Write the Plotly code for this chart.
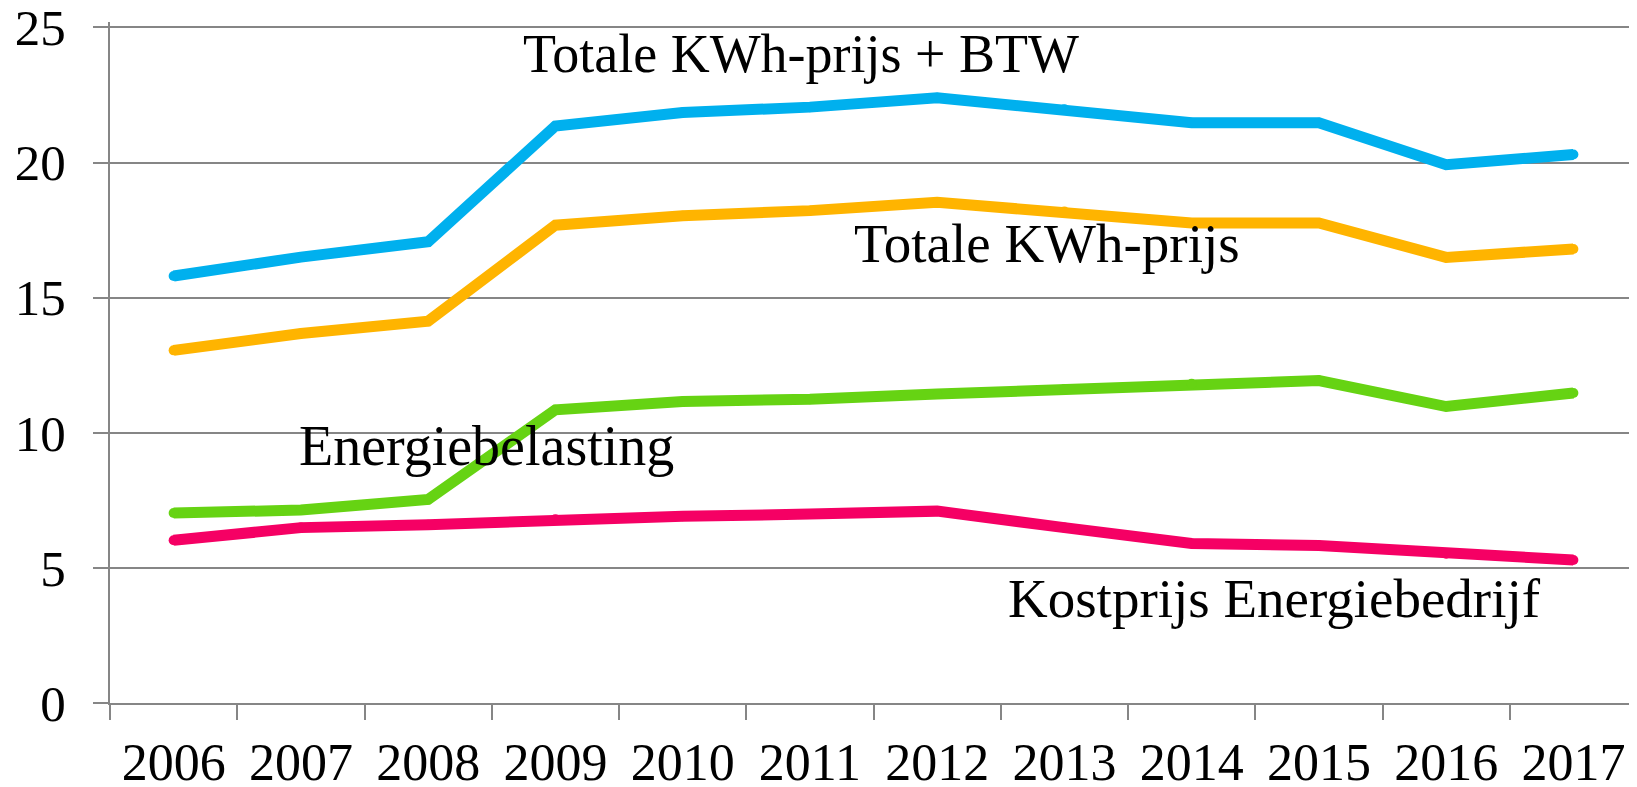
import plotly.graph_objects as go

years = ["2006", "2007", "2008", "2009", "2010", "2011", "2012", "2013", "2014", "2015", "2016", "2017"]
totaal_btw = [15.8, 16.5, 17.07, 21.35, 21.85, 22.05, 22.4, 21.97, 21.47, 21.47, 19.92, 20.3]
totaal = [13.05, 13.67, 14.13, 17.68, 18.03, 18.22, 18.53, 18.19, 17.76, 17.76, 16.49, 16.8]
energiebelasting = [7.03, 7.14, 7.53, 10.85, 11.16, 11.24, 11.43, 11.62, 11.81, 11.93, 10.97, 11.47]
kostprijs = [6.02, 6.49, 6.6, 6.8, 6.91, 6.99, 7.1, 6.49, 5.9, 5.83, 5.52, 5.29]

series_names = ["Totale KWh-prijs + BTW", "Totale KWh-prijs", "Energiebelasting", "Kostprijs Energiebedrijf"]
series_values = [totaal_btw, totaal, energiebelasting, kostprijs]
series_colors = ["#00B0EE", "#FFB400", "#66D313", "#F50064"]

# label positions (x as category index, y in data units) and sizes
label_x = [2.73, 5.33, 0.97, 6.54]
label_y = [24.0, 17.0, 9.5, 3.85]
label_size = [54, 55, 56, 55]

FONT = "Liberation Serif, Times New Roman, serif"
GRID = "#868686"

fig = go.Figure()
for name, vals, col in zip(series_names, series_values, series_colors):
    fig.add_trace(go.Scatter(x=years, y=vals, mode="lines+markers", name=name,
                             line=dict(color=col, width=11),
                             marker=dict(color=col, size=10, line=dict(width=0)),
                             showlegend=False))

for name, lx, ly, ls in zip(series_names, label_x, label_y, label_size):
    fig.add_annotation(x=lx, y=ly, xref="x", yref="y", text=name, showarrow=False,
                       xanchor="left", yanchor="middle",
                       font=dict(family=FONT, size=ls, color="#000000"))

# page body has an 8px default margin: size the figure so the plot lands where the reference has it
fig.update_layout(
    width=1629, height=779,
    margin=dict(l=102, r=0, t=14, b=84),
    paper_bgcolor="white", plot_bgcolor="white",
    font=dict(family=FONT, color="#000000"),
)
fig.update_xaxes(type="category", range=[-0.5, 11.5], tickson="boundaries",
                 ticks="outside", ticklen=15, tickwidth=2, tickcolor=GRID,
                 showline=True, linecolor=GRID, linewidth=2, showgrid=False,
                 zeroline=False, tickfont=dict(family=FONT, size=52),
                 ticklabelstandoff=13, automargin=False, ticklabeloverflow="allow")
fig.update_yaxes(range=[0, 25.2], tickvals=[0, 5, 10, 15, 20, 25],
                 ticks="outside", ticklen=15, tickwidth=2, tickcolor=GRID,
                 showline=True, linecolor=GRID, linewidth=2,
                 showgrid=True, gridcolor=GRID, gridwidth=2, zeroline=False,
                 tickfont=dict(family=FONT, size=51), ticklabelstandoff=17,
                 automargin=False, ticklabeloverflow="allow")

fig.write_html("out.html")
